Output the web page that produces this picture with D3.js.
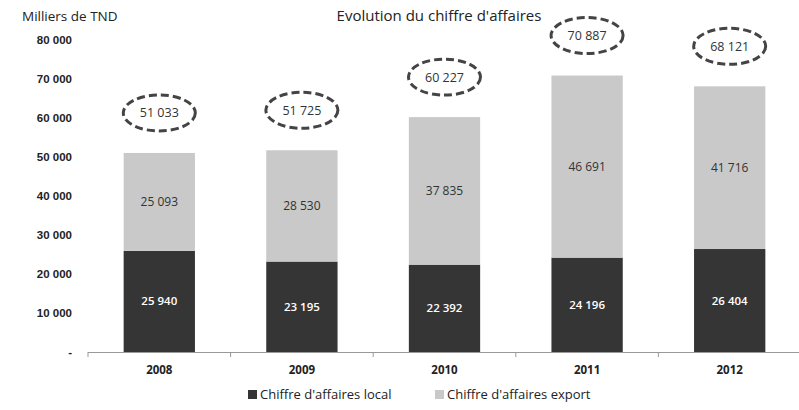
<!DOCTYPE html>
<html>
<head>
<meta charset="utf-8">
<script src="https://cdn.jsdelivr.net/npm/d3@7"></script>
<style>
body { margin: 0; background: #fff; }
svg { font-family: "Open Sans", "Noto Sans", sans-serif; }
</style>
</head>
<body>
<svg width="799" height="410"></svg>
<script>
// donnees du graphique
const years = ['2008', '2009', '2010', '2011', '2012'];
const local = [25940, 23195, 22392, 24196, 26404];
const exportCA = [25093, 28530, 37835, 46691, 41716];
const totals = [51033, 51725, 60227, 70887, 68121];
const yTicks = [0, 10000, 20000, 30000, 40000, 50000, 60000, 70000, 80000];
const seriesNames = ["Chiffre d'affaires local", "Chiffre d'affaires export"];
const colors = ['#353535', '#c9c9c9'];

const fr = d3.formatLocale({decimal: ',', thousands: '\u202f', grouping: [3], currency: ['', '']});
const fmt = v => fr.format(',')(v).replace('\u202f', ' ');

const svg = d3.select('svg');

const x = d3.scaleBand().domain(years).range([88, 801]).paddingInner(0.5).paddingOuter(0.25);
const y = d3.scaleLinear().domain([0, 80000]).range([352, 40]);

// axe y (labels seulement)
const yAxis = svg.append('g')
    .attr('transform', 'translate(74,0)')
    .call(d3.axisLeft(y).tickValues(yTicks).tickSize(0).tickPadding(2)
        .tickFormat(d => d === 0 ? '-' : fmt(d)));
yAxis.select('.domain').remove();
yAxis.selectAll('text')
    .attr('font-size', 11.5)
    .attr('font-weight', 'bold')
    .attr('fill', '#222');

// empilement
const rows = years.map((yr, i) => ({year: yr, local: local[i], export: exportCA[i]}));
const stack = d3.stack().keys(['local', 'export'])(rows);

const layers = svg.selectAll('.layer')
    .data(stack)
    .enter()
    .append('g')
    .attr('fill', (d, i) => colors[i]);

layers.selectAll('rect')
    .data(d => d)
    .enter()
    .append('rect')
    .attr('x', d => x(d.data.year))
    .attr('width', x.bandwidth())
    .attr('y', d => y(d[1]))
    .attr('height', d => y(d[0]) - y(d[1]));

// valeurs dans les barres
layers.each(function(layer, li) {
    d3.select(this).selectAll('text')
        .data(layer)
        .enter()
        .append('text')
        .attr('x', d => x(d.data.year) + x.bandwidth() / 2)
        .attr('y', d => (y(d[0]) + y(d[1])) / 2 + 4)
        .attr('text-anchor', 'middle')
        .attr('font-size', li === 0 ? 11.5 : 12)
        .attr('font-weight', li === 0 ? 600 : 'normal')
        .attr('fill', li === 0 ? '#fff' : '#333')
        .text(d => fmt(d[1] - d[0]));
});

// axe x
const xAxisG = svg.append('g');
xAxisG.append('line')
    .attr('x1', 88).attr('x2', 799)
    .attr('y1', 352.5).attr('y2', 352.5)
    .attr('stroke', '#999').attr('stroke-width', 1);
xAxisG.selectAll('.tk')
    .data(years)
    .enter()
    .append('line')
    .attr('x1', d => x(d) - x.step() * 0.25)
    .attr('x2', d => x(d) - x.step() * 0.25)
    .attr('y1', 352).attr('y2', 357)
    .attr('stroke', '#999');
xAxisG.selectAll('.lbl')
    .data(years)
    .enter()
    .append('text')
    .attr('x', d => x(d) + x.bandwidth() / 2)
    .attr('y', 374)
    .attr('text-anchor', 'middle')
    .attr('font-size', 11.5)
    .attr('font-weight', 'bold')
    .attr('fill', '#222')
    .text(d => d);

// totaux entoures
const tot = svg.selectAll('.tot')
    .data(years)
    .enter()
    .append('g')
    .attr('transform', (d, i) => `translate(${x(d) + x.bandwidth() / 2},${y(totals[i]) - 40})`);
tot.append('ellipse')
    .attr('rx', 36).attr('ry', 18)
    .attr('fill', 'none')
    .attr('stroke', '#444')
    .attr('stroke-width', 3)
    .attr('stroke-dasharray', '8,4');
tot.append('text')
    .attr('y', 4.5)
    .attr('text-anchor', 'middle')
    .attr('font-size', 12.5)
    .attr('fill', '#333')
    .text((d, i) => fmt(totals[i]));

// titres
svg.append('text')
    .attr('x', 22).attr('y', 21)
    .attr('font-size', 13.5)
    .attr('fill', '#222')
    .text('Milliers de TND');
svg.append('text')
    .attr('x', 439).attr('y', 21)
    .attr('text-anchor', 'middle')
    .attr('font-size', 15)
    .attr('fill', '#222')
    .text("Evolution du chiffre d'affaires");

// legende
const legX = [248, 435];
const leg = svg.selectAll('.leg')
    .data(seriesNames)
    .enter()
    .append('g')
    .attr('transform', (d, i) => `translate(${legX[i]},395)`);
leg.append('rect')
    .attr('width', 9).attr('height', 9)
    .attr('y', -5)
    .attr('fill', (d, i) => colors[i]);
leg.append('text')
    .attr('x', 12).attr('y', 4)
    .attr('font-size', 13)
    .attr('fill', '#222')
    .text(d => d);
</script>
</body>
</html>
